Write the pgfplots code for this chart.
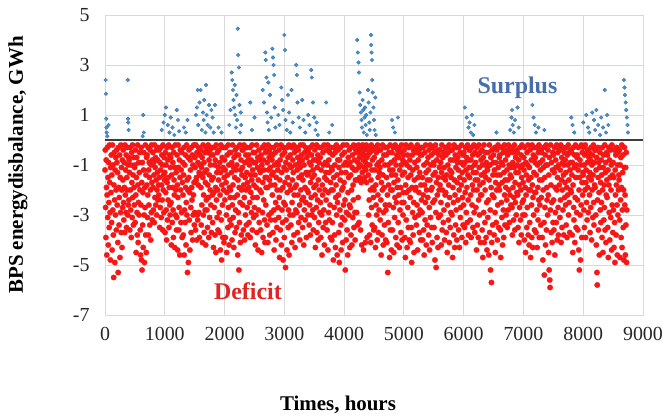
\documentclass[border=0pt]{standalone}
\usepackage{pgfplots}
\pgfplotsset{compat=1.18}
\usepackage{fontspec}
\setmainfont{Liberation Serif}

\definecolor{defred}{RGB}{255,20,20}
\definecolor{defedge}{RGB}{215,25,25}
\definecolor{surblue}{RGB}{74,144,204}
\definecolor{suredge}{RGB}{40,100,165}
\definecolor{surtext}{RGB}{72,110,170}
\definecolor{deftext}{RGB}{225,35,35}
\definecolor{zeroline}{RGB}{60,60,60}
\definecolor{gridgray}{RGB}{217,217,217}

\pgfplotsset{deficit/.style={only marks, mark=*, mark size=2.75pt,
  mark options={fill=defred, draw=defedge, line width=0.25pt}}}

\begin{document}
\begin{tikzpicture}
\begin{axis}[
  width=538bp, height=300bp, scale only axis,
  xmin=0, xmax=9000, ymin=-7, ymax=5,
  xtick={0,1000,...,9000},
  xticklabels={0,1000,2000,3000,4000,5000,6000,7000,8000,9000},
  ytick={-7,-5,-3,-1,1,3,5},
  yticklabels={-7,-5,-3,-1,1,3,5},
  major tick length=0pt,
  grid=major,
  grid style={draw=gridgray, line width=0.9pt},
  axis line style={draw=gridgray, line width=0.9pt},
  ticklabel style={font=\fontsize{20}{24}\selectfont, text=black!85},
  xticklabel style={yshift=-9bp},
  yticklabel style={xshift=-12bp},
  clip=false,
]
% hourly deficit of the power system (negative balance)
\addplot[deficit] table {
0 -1.2
5 -0.4
10 -2.7
15 -3.9
20 -0.8
25 -1.9
30 -4.6
35 -2.2
40 -0.3
45 -3.1
50 -1.5
55 -4.2
60 -0.9
65 -2.5
70 -3.5
75 -0.2
80 -1.7
85 -2.9
90 -4.8
95 -1.1
100 -2.1
105 -0.6
110 -3.3
115 -1.4
120 -4.4
125 -0.2
130 -2.8
135 -1.0
140 -3.8
145 -5.5
150 -1.8
155 -0.5
160 -2.4
165 -4.9
170 -1.2
175 -3.0
180 -0.7
185 -2.0
190 -3.6
195 -0.4
200 -0.9
205 -2.6
210 -1.3
215 -4.1
220 -5.3
225 -0.3
230 -1.9
235 -3.4
240 -2.3
245 -0.6
250 -4.7
255 -1.5
260 -2.9
265 -0.2
270 -3.7
275 -1.1
280 -2.0
285 -4.3
290 -0.8
295 -2.7
300 -1.6
305 -0.4
310 -2.5
315 -3.2
320 -0.9
325 -1.9
330 -3.7
335 -0.2
340 -2.2
345 -1.2
350 -2.9
355 -0.6
360 -3.5
365 -1.5
370 -2.0
375 -0.3
380 -3.0
385 -1.0
390 -2.6
395 -0.7
400 -2.4
405 -0.8
410 -1.3
415 -3.6
420 -0.3
425 -2.0
430 -2.8
435 -1.0
440 -3.9
445 -0.5
450 -1.7
455 -3.1
460 -0.2
465 -2.3
470 -1.4
475 -3.4
480 -0.7
485 -1.9
490 -2.6
495 -1.1
500 -1.0
505 -3.3
510 -0.4
515 -2.2
520 -4.5
525 -1.5
530 -0.7
535 -2.9
540 -3.8
545 -0.2
550 -1.8
555 -4.1
560 -2.5
565 -0.9
570 -3.0
575 -1.3
580 -0.5
585 -2.0
590 -3.6
595 -4.6
600 -2.6
605 -0.3
610 -4.8
615 -1.7
620 -5.2
625 -0.9
630 -3.4
635 -2.1
640 -4.3
645 -1.2
650 -0.5
655 -3.0
660 -4.9
665 -1.9
670 -2.7
675 -0.2
680 -3.8
685 -1.4
690 -4.5
695 -0.7
700 -1.8
705 -0.6
710 -3.1
715 -2.2
720 -0.3
725 -3.8
730 -1.2
735 -2.6
740 -0.9
745 -1.5
750 -3.4
755 -0.4
760 -2.0
765 -4.0
770 -1.0
775 -2.9
780 -0.2
785 -1.7
790 -3.2
795 -0.8
800 -0.5
805 -1.9
810 -2.8
815 -0.9
820 -1.4
825 -3.3
830 -0.2
835 -2.3
840 -1.1
845 -0.7
850 -2.6
855 -1.6
860 -0.4
865 -3.0
870 -2.0
875 -1.3
880 -0.8
885 -2.4
890 -0.3
895 -1.8
900 -2.2
905 -0.4
910 -1.5
915 -3.5
920 -0.9
925 -2.7
930 -1.2
935 -0.3
940 -3.1
945 -1.8
950 -0.6
955 -2.4
960 -1.0
965 -3.6
970 -0.2
975 -2.0
980 -1.4
985 -2.9
990 -0.7
995 -1.6
1000 -1.3
1005 -3.7
1010 -0.5
1015 -2.1
1020 -1.0
1025 -2.8
1030 -4.0
1035 -0.3
1040 -1.7
1045 -3.2
1050 -0.8
1055 -2.4
1060 -1.5
1065 -0.2
1070 -3.5
1075 -1.9
1080 -0.6
1085 -2.6
1090 -3.0
1095 -1.1
1100 -0.7
1105 -2.5
1110 -4.2
1115 -1.4
1120 -0.3
1125 -3.3
1130 -1.9
1135 -0.9
1140 -2.8
1145 -3.9
1150 -0.5
1155 -1.6
1160 -2.2
1165 -4.3
1170 -1.1
1175 -0.2
1180 -3.0
1185 -2.0
1190 -1.3
1195 -3.6
1200 -3.1
1205 -0.6
1210 -1.8
1215 -4.4
1220 -2.3
1225 -0.2
1230 -1.1
1235 -3.6
1240 -2.7
1245 -0.8
1250 -4.6
1255 -1.5
1260 -0.4
1265 -2.0
1270 -3.3
1275 -1.2
1280 -2.9
1285 -0.5
1290 -3.9
1295 -1.7
1300 -0.9
1305 -2.2
1310 -3.8
1315 -1.4
1320 -0.3
1325 -4.6
1330 -2.8
1335 -1.0
1340 -3.3
1345 -0.6
1350 -1.9
1355 -4.2
1360 -2.5
1365 -0.2
1370 -3.0
1375 -1.6
1380 -5.3
1385 -2.0
1390 -0.7
1395 -4.9
1400 -1.5
1405 -0.4
1410 -3.2
1415 -2.1
1420 -4.4
1425 -0.8
1430 -1.2
1435 -2.7
1440 -3.7
1445 -0.3
1450 -1.9
1455 -2.4
1460 -0.6
1465 -4.0
1470 -1.0
1475 -3.0
1480 -2.2
1485 -0.2
1490 -1.7
1495 -3.4
1500 -2.9
1505 -0.7
1510 -1.1
1515 -3.6
1520 -0.2
1525 -1.6
1530 -1.5
1535 -4.0
1540 -0.5
1545 -3.0
1550 -3.2
1555 -0.9
1560 -1.8
1565 -0.3
1570 -2.9
1575 -1.3
1580 -3.9
1585 -0.6
1590 -1.4
1595 -1.0
1600 -0.4
1605 -1.9
1610 -3.4
1615 -1.1
1620 -2.6
1625 -0.7
1630 -4.1
1635 -1.5
1640 -0.2
1645 -3.0
1650 -2.2
1655 -0.9
1660 -3.7
1665 -1.3
1670 -0.5
1675 -2.8
1680 -1.7
1685 -4.2
1690 -0.3
1695 -2.4
1700 -1.2
1705 -2.8
1710 -0.5
1715 -3.5
1720 -1.8
1725 -0.2
1730 -2.3
1735 -3.9
1740 -0.8
1745 -1.4
1750 -3.1
1755 -0.4
1760 -2.0
1765 -1.0
1770 -2.6
1775 -0.6
1780 -3.7
1785 -1.6
1790 -0.3
1795 -2.2
1800 -3.3
1805 -0.6
1810 -1.5
1815 -4.3
1820 -2.1
1825 -0.3
1830 -2.7
1835 -1.0
1840 -3.8
1845 -0.8
1850 -1.9
1855 -4.5
1860 -0.2
1865 -2.4
1870 -1.3
1875 -3.1
1880 -0.5
1885 -2.0
1890 -3.6
1895 -1.1
1900 -1.6
1905 -0.4
1910 -2.9
1915 -3.7
1920 -0.9
1925 -2.2
1930 -4.4
1935 -1.3
1940 -0.2
1945 -3.2
1950 -4.8
1955 -1.8
1960 -0.7
1965 -2.6
1970 -3.9
1975 -1.1
1980 -0.3
1985 -2.0
1990 -4.1
1995 -1.5
2000 -0.8
2005 -2.4
2010 -1.2
2015 -3.9
2020 -0.3
2025 -1.7
2030 -3.0
2035 -4.5
2040 -2.1
2045 -0.6
2050 -1.4
2055 -3.5
2060 -0.2
2065 -2.7
2070 -1.0
2075 -4.2
2080 -1.9
2085 -0.5
2090 -3.2
2095 -2.3
2100 -2.0
2105 -0.5
2110 -3.4
2115 -1.3
2120 -0.9
2125 -4.0
2130 -2.6
2135 -0.2
2140 -1.8
2145 -3.1
2150 -1.1
2155 -4.3
2160 -0.7
2165 -2.3
2170 -1.5
2175 -3.7
2180 -0.4
2185 -2.8
2190 -1.2
2195 -0.6
2200 -3.5
2205 -1.0
2210 -0.3
2215 -2.2
2220 -4.6
2225 -1.6
2230 -2.9
2235 -0.6
2240 -5.2
2245 -1.9
2250 -3.3
2255 -0.2
2260 -2.5
2265 -4.1
2270 -1.2
2275 -0.8
2280 -3.8
2285 -2.0
2290 -1.4
2295 -0.4
2300 -1.1
2305 -2.6
2310 -0.4
2315 -3.6
2320 -1.8
2325 -0.2
2330 -2.3
2335 -4.0
2340 -0.9
2345 -1.5
2350 -3.0
2355 -0.6
2360 -2.0
2365 -3.4
2370 -1.3
2375 -0.3
2380 -2.7
2385 -1.7
2390 -3.8
2395 -0.8
2400 -0.6
2405 -1.9
2410 -3.3
2415 -1.0
2420 -2.5
2425 -0.3
2430 -3.9
2435 -1.4
2440 -2.1
2445 -0.8
2450 -2.9
2455 -1.6
2460 -0.2
2465 -3.6
2470 -1.2
2475 -2.3
2480 -0.5
2485 -3.1
2490 -1.8
2495 -0.9
2500 -2.7
2505 -0.5
2510 -1.4
2515 -4.2
2520 -0.9
2525 -3.0
2530 -1.9
2535 -0.2
2540 -3.7
2545 -2.3
2550 -1.1
2555 -0.7
2560 -4.4
2565 -1.6
2570 -2.8
2575 -0.4
2580 -3.3
2585 -1.2
2590 -2.0
2595 -0.8
2600 -1.3
2605 -3.6
2610 -0.6
2615 -2.1
2620 -4.5
2625 -1.0
2630 -0.3
2635 -2.9
2640 -1.7
2645 -3.9
2650 -0.8
2655 -2.4
2660 -1.2
2665 -0.2
2670 -3.2
2675 -4.1
2680 -1.5
2685 -0.5
2690 -2.6
2695 -1.9
2700 -0.4
2705 -1.5
2710 -3.4
2715 -0.9
2720 -1.9
2725 -4.1
2730 -0.2
2735 -1.2
2740 -3.0
2745 -0.7
2750 -1.6
2755 -3.8
2760 -0.5
2765 -1.1
2770 -3.2
2775 -1.8
2780 -0.3
2785 -2.9
2790 -1.4
2795 -0.8
2800 -2.2
2805 -0.6
2810 -3.7
2815 -1.3
2820 -0.3
2825 -2.8
2830 -4.4
2835 -1.0
2840 -1.8
2845 -3.2
2850 -0.5
2855 -2.5
2860 -4.0
2865 -1.5
2870 -0.2
2875 -3.5
2880 -2.0
2885 -0.9
2890 -1.2
2895 -2.7
2900 -1.0
2905 -3.1
2910 -0.4
2915 -2.3
2920 -4.7
2925 -1.6
2930 -0.8
2935 -3.6
2940 -2.0
2945 -0.2
2950 -4.2
2955 -1.3
2960 -2.8
2965 -0.6
2970 -3.3
2975 -1.9
2980 -4.8
2985 -0.3
2990 -2.5
2995 -1.1
};
\addplot[deficit] table {
3000 -3.9
3005 -0.5
3010 -1.7
3015 -2.6
3020 -5.1
3025 -0.9
3030 -3.2
3035 -1.2
3040 -0.3
3045 -4.4
3050 -2.1
3055 -1.5
3060 -0.7
3065 -3.5
3070 -2.8
3075 -0.2
3080 -4.6
3085 -1.8
3090 -1.0
3095 -3.0
3100 -0.6
3105 -2.0
3110 -3.4
3115 -1.1
3120 -0.3
3125 -4.1
3130 -2.5
3135 -1.6
3140 -0.8
3145 -3.0
3150 -1.3
3155 -0.2
3160 -3.8
3165 -2.2
3170 -0.5
3175 -1.9
3180 -4.3
3185 -1.0
3190 -2.8
3195 -0.4
3200 -1.8
3205 -0.3
3210 -2.9
3215 -1.2
3220 -3.7
3225 -0.7
3230 -2.2
3235 -0.4
3240 -3.3
3245 -1.5
3250 -0.9
3255 -2.6
3260 -4.0
3265 -1.1
3270 -0.2
3275 -2.0
3280 -3.1
3285 -0.6
3290 -1.4
3295 -2.4
3300 -0.8
3305 -3.5
3310 -1.6
3315 -0.2
3320 -2.3
3325 -4.2
3330 -1.0
3335 -2.8
3340 -0.5
3345 -1.9
3350 -3.2
3355 -0.3
3360 -2.5
3365 -1.3
3370 -3.9
3375 -0.7
3380 -2.0
3385 -1.4
3390 -0.4
3395 -3.0
3400 -2.1
3405 -0.5
3410 -1.3
3415 -3.4
3420 -0.9
3425 -2.6
3430 -0.3
3435 -3.8
3440 -1.7
3445 -1.0
3450 -2.3
3455 -0.6
3460 -3.0
3465 -1.5
3470 -0.2
3475 -2.8
3480 -1.2
3485 -3.6
3490 -0.8
3495 -1.9
3500 -1.4
3505 -3.1
3510 -0.4
3515 -2.2
3520 -4.3
3525 -0.8
3530 -1.8
3535 -2.7
3540 -0.2
3545 -3.7
3550 -1.1
3555 -2.4
3560 -0.6
3565 -4.0
3570 -1.6
3575 -3.3
3580 -0.9
3585 -2.0
3590 -0.3
3595 -2.9
3600 -0.7
3605 -2.5
3610 -3.9
3615 -1.2
3620 -0.3
3625 -3.0
3630 -4.6
3635 -1.8
3640 -2.2
3645 -0.5
3650 -3.5
3655 -1.0
3660 -2.8
3665 -0.2
3670 -4.2
3675 -1.5
3680 -2.0
3685 -0.9
3690 -3.3
3695 -1.3
3700 -2.4
3705 -0.4
3710 -1.6
3715 -3.6
3720 -1.0
3725 -0.2
3730 -4.4
3735 -2.1
3740 -2.9
3745 -0.8
3750 -1.3
3755 -3.2
3760 -0.5
3765 -2.6
3770 -3.9
3775 -1.7
3780 -0.3
3785 -2.0
3790 -1.1
3795 -4.0
3800 -1.2
3805 -3.3
3810 -0.6
3815 -2.0
3820 -4.8
3825 -1.5
3830 -0.3
3835 -2.7
3840 -3.8
3845 -1.0
3850 -0.5
3855 -4.3
3860 -2.3
3865 -1.8
3870 -0.2
3875 -3.0
3880 -1.4
3885 -4.6
3890 -2.5
3895 -0.8
3900 -0.4
3905 -2.2
3910 -3.7
3915 -1.1
3920 -4.9
3925 -0.8
3930 -2.8
3935 -1.6
3940 -0.3
3945 -3.4
3950 -4.4
3955 -1.3
3960 -2.0
3965 -0.6
3970 -3.1
3975 -4.1
3980 -1.9
3985 -0.2
3990 -2.6
3995 -1.0
4000 -1.7
4005 -0.5
4010 -3.2
4015 -2.4
4020 -5.2
4025 -0.9
4030 -1.3
4035 -4.0
4040 -2.9
4045 -0.2
4050 -3.6
4055 -1.0
4060 -4.6
4065 -2.1
4070 -0.7
4075 -1.5
4080 -3.0
4085 -0.4
4090 -2.6
4095 -4.3
4100 -0.9
4105 -2.7
4110 -1.4
4115 -3.8
4120 -0.3
4125 -2.0
4130 -4.2
4135 -1.1
4140 -0.6
4145 -3.1
4150 -1.8
4155 -2.4
4160 -0.2
4165 -3.5
4170 -1.2
4175 -0.8
4180 -2.9
4185 -4.0
4190 -1.6
4195 -0.4
4200 -1.2
4205 -0.5
4210 -2.9
4215 -1.6
4220 -0.3
4225 -3.4
4230 -0.9
4235 -2.3
4240 -0.2
4245 -1.1
4250 -3.3
4255 -0.7
4260 -1.5
4265 -0.4
4270 -1.0
4275 -3.6
4280 -0.6
4285 -1.7
4290 -0.3
4295 -4.2
4300 -0.5
4305 -1.3
4310 -0.2
4315 -1.6
4320 -0.8
4325 -4.4
4330 -0.4
4335 -1.1
4340 -0.6
4345 -1.5
4350 -0.3
4355 -4.1
4360 -0.9
4365 -1.2
4370 -0.2
4375 -1.7
4380 -0.7
4385 -3.9
4390 -1.0
4395 -0.4
4400 -0.6
4405 -1.4
4410 -3.0
4415 -0.3
4420 -2.4
4425 -3.8
4430 -1.0
4435 -0.5
4440 -2.0
4445 -4.1
4450 -1.6
4455 -0.2
4460 -2.7
4465 -1.2
4470 -3.4
4475 -0.8
4480 -1.9
4485 -0.4
4490 -2.3
4495 -3.6
4500 -2.0
4505 -0.7
4510 -3.5
4515 -1.2
4520 -0.3
4525 -4.3
4530 -1.8
4535 -2.6
4540 -0.5
4545 -3.0
4550 -1.0
4555 -4.0
4560 -0.2
4565 -2.2
4570 -1.5
4575 -3.7
4580 -0.9
4585 -2.8
4590 -1.3
4595 -0.4
4600 -1.1
4605 -3.2
4610 -0.4
4615 -2.4
4620 -4.6
4625 -1.7
4630 -0.8
4635 -3.8
4640 -2.0
4645 -0.2
4650 -1.4
4655 -4.2
4660 -2.9
4665 -0.6
4670 -1.9
4675 -3.4
4680 -1.0
4685 -0.3
4690 -2.6
4695 -4.0
4700 -2.8
4705 -0.6
4710 -1.5
4715 -4.1
4720 -0.3
4725 -2.2
4730 -5.3
4735 -1.0
4740 -3.3
4745 -1.8
4750 -0.5
4755 -2.6
4760 -4.7
4765 -1.2
4770 -0.2
4775 -3.6
4780 -2.0
4785 -0.9
4790 -4.4
4795 -1.4
4800 -0.5
4805 -2.0
4810 -3.6
4815 -1.2
4820 -0.3
4825 -2.7
4830 -4.5
4835 -1.7
4840 -0.8
4845 -3.1
4850 -2.3
4855 -0.2
4860 -1.4
4865 -3.9
4870 -1.0
4875 -2.5
4880 -0.6
4885 -4.2
4890 -1.9
4895 -0.4
4900 -1.6
4905 -3.3
4910 -0.7
4915 -2.2
4920 -0.3
4925 -4.3
4930 -1.2
4935 -2.8
4940 -0.5
4945 -1.9
4950 -3.7
4955 -1.0
4960 -0.2
4965 -2.5
4970 -4.0
4975 -1.4
4980 -0.8
4985 -3.0
4990 -2.1
4995 -0.6
5000 -2.5
5005 -0.4
5010 -1.3
5015 -3.9
5020 -0.9
5025 -4.7
5030 -1.8
5035 -0.2
5040 -3.2
5045 -2.1
5050 -1.0
5055 -4.3
5060 -0.6
5065 -2.7
5070 -1.5
5075 -3.5
5080 -0.3
5085 -2.0
5090 -4.0
5095 -1.1
5100 -0.8
5105 -2.3
5110 -4.1
5115 -1.4
5120 -0.2
5125 -3.5
5130 -4.9
5135 -1.9
5140 -0.6
5145 -2.9
5150 -1.2
5155 -3.8
5160 -0.4
5165 -2.5
5170 -4.5
5175 -1.6
5180 -0.9
5185 -3.1
5190 -2.0
5195 -0.3
5200 -1.9
5205 -0.5
5210 -3.4
5215 -1.1
5220 -2.6
5225 -0.2
5230 -4.4
5235 -1.5
5240 -0.8
5245 -3.0
5250 -2.1
5255 -0.4
5260 -3.7
5265 -1.3
5270 -2.8
5275 -0.6
5280 -4.0
5285 -1.8
5290 -0.3
5295 -2.4
5300 -0.6
5305 -2.9
5310 -1.5
5315 -4.0
5320 -0.3
5325 -2.2
5330 -3.6
5335 -1.0
5340 -4.6
5345 -1.8
5350 -0.5
5355 -3.2
5360 -2.5
5365 -0.2
5370 -1.3
5375 -4.2
5380 -2.0
5385 -0.9
5390 -3.4
5395 -1.6
5400 -2.3
5405 -0.7
5410 -1.2
5415 -3.8
5420 -0.4
5425 -2.7
5430 -4.4
5435 -1.6
5440 -0.2
5445 -3.1
5450 -1.0
5455 -2.0
5460 -0.6
5465 -3.5
5470 -1.9
5475 -4.1
5480 -0.3
5485 -2.5
5490 -1.4
5495 -0.9
5500 -1.0
5505 -3.5
5510 -0.5
5515 -2.4
5520 -4.8
5525 -1.3
5530 -0.2
5535 -2.9
5540 -5.1
5545 -1.7
5550 -0.8
5555 -3.9
5560 -2.2
5565 -0.4
5570 -4.3
5575 -1.5
5580 -3.1
5585 -0.6
5590 -2.0
5595 -1.1
5600 -0.4
5605 -1.8
5610 -3.0
5615 -0.9
5620 -2.5
5625 -4.2
5630 -1.3
5635 -0.2
5640 -3.6
5645 -2.0
5650 -0.7
5655 -1.5
5660 -3.3
5665 -0.5
5670 -2.8
5675 -1.1
5680 -4.0
5685 -0.3
5690 -2.2
5695 -1.6
5700 -2.1
5705 -0.6
5710 -3.7
5715 -1.4
5720 -0.3
5725 -4.5
5730 -2.6
5735 -1.0
5740 -0.5
5745 -3.2
5750 -1.8
5755 -0.2
5760 -4.1
5765 -2.3
5770 -1.2
5775 -3.5
5780 -0.8
5785 -2.9
5790 -1.5
5795 -0.4
5800 -1.3
5805 -3.0
5810 -0.4
5815 -4.7
5820 -1.9
5825 -0.8
5830 -2.5
5835 -3.8
5840 -0.2
5845 -1.6
5850 -4.3
5855 -2.2
5860 -0.6
5865 -3.4
5870 -1.1
5875 -2.8
5880 -0.3
5885 -4.0
5890 -1.7
5895 -0.9
5900 -0.7
5905 -2.4
5910 -1.2
5915 -3.6
5920 -0.3
5925 -2.0
5930 -4.3
5935 -1.5
5940 -0.5
5945 -3.1
5950 -2.7
5955 -0.9
5960 -1.8
5965 -0.2
5970 -3.9
5975 -1.3
5980 -2.3
5985 -0.6
5990 -3.4
5995 -1.0
};
\addplot[deficit] table {
6000 -2.6
6005 -0.5
6010 -1.6
6015 -3.5
6020 -0.9
6025 -2.1
6030 -0.3
6035 -4.1
6040 -1.2
6045 -2.9
6050 -0.7
6055 -1.9
6060 -3.3
6065 -0.2
6070 -1.4
6075 -2.4
6080 -3.8
6085 -0.8
6090 -1.1
6095 -0.4
6100 -1.5
6105 -0.4
6110 -3.2
6115 -2.2
6120 -0.8
6125 -3.9
6130 -1.1
6135 -0.3
6140 -2.6
6145 -1.8
6150 -0.6
6155 -3.5
6160 -1.3
6165 -2.0
6170 -0.2
6175 -2.9
6180 -1.0
6185 -3.7
6190 -0.5
6195 -1.6
6200 -0.9
6205 -2.7
6210 -1.3
6215 -4.4
6220 -0.3
6225 -2.0
6230 -3.4
6235 -1.6
6240 -0.6
6245 -3.9
6250 -2.4
6255 -0.2
6260 -1.1
6265 -3.0
6270 -1.8
6275 -0.5
6280 -4.1
6285 -2.2
6290 -0.8
6295 -1.4
6300 -2.2
6305 -0.4
6310 -3.6
6315 -1.0
6320 -4.7
6325 -1.7
6330 -0.7
6335 -2.9
6340 -0.2
6345 -4.1
6350 -1.3
6355 -3.3
6360 -2.0
6365 -0.5
6370 -1.5
6375 -3.9
6380 -0.9
6385 -2.5
6390 -4.4
6395 -1.1
6400 -1.2
6405 -3.1
6410 -0.5
6415 -2.4
6420 -4.6
6425 -1.6
6430 -0.2
6435 -3.7
6440 -1.0
6445 -2.8
6450 -5.2
6455 -0.7
6460 -1.9
6465 -5.7
6470 -4.1
6475 -0.4
6480 -2.2
6485 -3.4
6490 -1.4
6495 -0.9
6500 -0.6
6505 -2.3
6510 -3.8
6515 -1.2
6520 -0.3
6525 -2.9
6530 -4.5
6535 -1.7
6540 -0.9
6545 -3.3
6550 -2.0
6555 -0.4
6560 -1.4
6565 -4.0
6570 -2.6
6575 -0.2
6580 -1.1
6585 -3.5
6590 -1.8
6595 -0.7
6600 -2.0
6605 -0.6
6610 -1.4
6615 -3.6
6620 -4.7
6625 -0.9
6630 -2.5
6635 -0.3
6640 -3.1
6645 -1.7
6650 -4.2
6655 -1.0
6660 -0.5
6665 -2.8
6670 -3.9
6675 -1.3
6680 -0.2
6685 -2.2
6690 -3.4
6695 -1.6
6700 -0.8
6705 -1.9
6710 -3.0
6715 -0.4
6720 -2.4
6725 -1.2
6730 -3.5
6735 -0.6
6740 -1.6
6745 -2.8
6750 -0.2
6755 -2.0
6760 -1.0
6765 -3.3
6770 -0.5
6775 -2.2
6780 -1.4
6785 -0.3
6790 -2.6
6795 -1.1
6800 -1.5
6805 -0.3
6810 -2.7
6815 -3.8
6820 -0.9
6825 -1.9
6830 -0.5
6835 -3.2
6840 -2.3
6845 -1.1
6850 -0.2
6855 -3.6
6860 -1.7
6865 -2.5
6870 -0.7
6875 -1.3
6880 -3.0
6885 -0.4
6890 -2.1
6895 -1.0
6900 -0.5
6905 -2.2
6910 -3.5
6915 -1.3
6920 -0.8
6925 -4.1
6930 -1.8
6935 -2.7
6940 -0.3
6945 -1.1
6950 -3.2
6955 -2.0
6960 -0.6
6965 -3.8
6970 -1.5
6975 -0.2
6980 -2.5
6985 -1.0
6990 -3.0
6995 -1.7
7000 -2.4
7005 -0.7
7010 -1.2
7015 -4.0
7020 -0.3
7025 -3.0
7030 -1.9
7035 -4.5
7040 -0.9
7045 -2.2
7050 -1.4
7055 -3.5
7060 -0.5
7065 -2.7
7070 -1.0
7075 -0.2
7080 -3.8
7085 -1.6
7090 -2.0
7095 -4.2
7100 -1.1
7105 -3.3
7110 -0.4
7115 -2.0
7120 -4.7
7125 -1.5
7130 -0.8
7135 -2.6
7140 -3.9
7145 -0.2
7150 -1.8
7155 -4.3
7160 -2.3
7165 -0.6
7170 -3.0
7175 -1.3
7180 -0.3
7185 -3.6
7190 -2.1
7195 -0.9
7200 -0.7
7205 -2.1
7210 -3.7
7215 -1.4
7220 -0.3
7225 -2.8
7230 -4.3
7235 -1.0
7240 -1.9
7245 -3.2
7250 -0.5
7255 -2.4
7260 -0.2
7265 -3.9
7270 -1.6
7275 -2.6
7280 -0.9
7285 -1.2
7290 -3.4
7295 -0.4
7300 -2.3
7305 -0.5
7310 -1.6
7315 -3.9
7320 -0.8
7325 -4.8
7330 -2.0
7335 -1.1
7340 -0.3
7345 -3.3
7350 -5.4
7355 -1.5
7360 -2.7
7365 -0.6
7370 -4.2
7375 -1.0
7380 -0.2
7385 -3.6
7390 -1.9
7395 -2.4
7400 -1.0
7405 -3.0
7410 -0.4
7415 -2.2
7420 -4.5
7425 -1.4
7430 -5.2
7435 -0.7
7440 -5.6
7445 -5.9
7450 -2.8
7455 -0.2
7460 -1.8
7465 -3.7
7470 -0.9
7475 -2.5
7480 -4.1
7485 -1.2
7490 -0.5
7495 -3.3
7500 -0.6
7505 -2.4
7510 -3.6
7515 -1.3
7520 -0.3
7525 -4.6
7530 -1.9
7535 -2.9
7540 -0.8
7545 -1.1
7550 -3.3
7555 -0.2
7560 -2.0
7565 -4.0
7570 -1.5
7575 -0.5
7580 -2.7
7585 -3.8
7590 -1.0
7595 -0.4
7600 -1.8
7605 -0.4
7610 -3.1
7615 -1.2
7620 -2.4
7625 -0.2
7630 -4.1
7635 -1.6
7640 -0.7
7645 -3.5
7650 -2.0
7655 -0.9
7660 -2.8
7665 -0.3
7670 -1.4
7675 -3.8
7680 -1.0
7685 -0.5
7690 -2.3
7695 -1.7
7700 -0.8
7705 -2.6
7710 -1.3
7715 -3.4
7720 -0.3
7725 -1.9
7730 -3.9
7735 -0.6
7740 -2.2
7745 -1.0
7750 -0.2
7755 -3.0
7760 -1.6
7765 -2.5
7770 -0.5
7775 -3.7
7780 -1.2
7785 -0.9
7790 -2.0
7795 -0.4
7800 -2.1
7805 -0.5
7810 -1.4
7815 -3.8
7820 -0.9
7825 -4.5
7830 -1.8
7835 -0.3
7840 -2.7
7845 -3.2
7850 -1.1
7855 -0.6
7860 -4.1
7865 -2.3
7870 -0.2
7875 -1.5
7880 -3.5
7885 -1.0
7890 -2.9
7895 -0.7
7900 -0.6
7905 -2.4
7910 -3.6
7915 -1.2
7920 -0.3
7925 -4.4
7930 -2.0
7935 -5.2
7940 -1.5
7945 -0.8
7950 -3.0
7955 -4.8
7960 -1.0
7965 -2.6
7970 -0.2
7975 -3.9
7980 -1.7
7985 -0.5
7990 -2.2
7995 -1.3
8000 -1.4
8005 -0.3
8010 -2.8
8015 -1.0
8020 -3.5
8025 -0.6
8030 -2.0
8035 -0.2
8040 -3.9
8045 -1.7
8050 -1.2
8055 -2.5
8060 -0.5
8065 -3.2
8070 -0.9
8075 -1.9
8080 -0.4
8085 -2.9
8090 -1.5
8095 -0.7
8100 -0.5
8105 -2.2
8110 -1.3
8115 -3.7
8120 -0.8
8125 -2.7
8130 -0.3
8135 -1.6
8140 -4.0
8145 -1.0
8150 -2.0
8155 -0.6
8160 -3.1
8165 -1.4
8170 -0.2
8175 -2.5
8180 -3.4
8185 -0.9
8190 -1.8
8195 -0.4
8200 -1.9
8205 -0.4
8210 -3.0
8215 -1.2
8220 -4.2
8225 -0.7
8230 -5.3
8235 -5.8
8240 -2.4
8245 -0.3
8250 -1.5
8255 -3.6
8260 -0.9
8265 -2.1
8270 -4.6
8275 -1.1
8280 -0.5
8285 -2.8
8290 -1.7
8295 -3.3
8300 -0.8
8305 -2.5
8310 -1.4
8315 -3.9
8320 -0.3
8325 -2.0
8330 -4.5
8335 -1.1
8340 -0.6
8345 -3.2
8350 -1.8
8355 -2.7
8360 -0.2
8365 -3.6
8370 -1.3
8375 -0.9
8380 -4.1
8385 -2.2
8390 -0.5
8395 -1.6
8400 -2.3
8405 -0.6
8410 -3.5
8415 -1.2
8420 -4.7
8425 -0.3
8430 -1.8
8435 -2.9
8440 -0.8
8445 -4.0
8450 -1.5
8455 -0.4
8460 -3.1
8465 -2.0
8470 -1.0
8475 -4.4
8480 -0.2
8485 -2.6
8490 -1.4
8495 -3.7
8500 -0.9
8505 -2.8
8510 -1.5
8515 -4.3
8520 -0.4
8525 -3.3
8530 -4.9
8535 -1.2
8540 -2.2
8545 -0.6
8550 -3.8
8555 -1.8
8560 -0.3
8565 -2.6
8570 -4.6
8575 -1.0
8580 -3.0
8585 -0.5
8590 -2.0
8595 -1.4
8600 -1.6
8605 -0.4
8610 -3.2
8615 -4.7
8620 -1.0
8625 -2.4
8630 -0.7
8635 -3.9
8640 -1.9
8645 -0.2
8650 -4.3
8655 -2.8
8660 -1.3
8665 -0.6
8670 -3.5
8675 -2.0
8680 -4.8
8685 -1.1
8690 -0.3
8695 -2.6
8700 -2.2
8705 -4.6
8710 -1.1
8715 -3.4
8720 -0.5
8725 -4.9
8730 -2.8
};
% balance line at zero
\addplot[draw=zeroline, line width=2.6pt, forget plot] coordinates {(0,0) (9000,0)};
% hourly surplus (positive balance)
\addplot[only marks, mark=*, mark size=1.9pt,
  mark options={fill=surblue, draw=suredge, line width=0.25pt}] table {
10 2.4
15 1.85
20 0.85
25 0.5
30 0.3
40 0.15
60 0.6
380 2.4
385 0.85
390 0.7
395 0.4
630 0.15
640 1.0
650 0.3
950 0.4
980 0.7
1000 1.0
1020 1.3
1050 0.6
1080 0.3
1100 0.9
1130 0.5
1160 0.2
1200 1.2
1220 0.8
1240 0.35
1320 0.5
1350 0.3
1380 0.8
1520 1.0
1540 1.3
1550 2.0
1560 0.6
1580 1.5
1600 2.0
1620 0.4
1640 1.1
1650 0.8
1660 1.6
1680 0.3
1690 2.2
1700 1.0
1720 0.6
1740 1.4
1760 0.5
1780 1.2
1800 0.9
1820 0.3
1840 1.4
1900 0.5
1950 0.3
2080 0.6
2100 1.2
2120 2.7
2130 2.4
2140 2.0
2150 1.6
2160 1.3
2170 2.2
2180 1.0
2190 0.5
2200 1.8
2210 0.8
2220 4.45
2230 3.4
2240 2.9
2250 1.4
2260 0.3
2270 1.1
2280 0.6
2430 1.5
2460 0.4
2500 0.9
2640 2.0
2660 1.5
2680 3.5
2690 3.2
2700 2.5
2710 1.1
2720 0.7
2730 2.3
2740 0.4
2760 1.8
2780 0.9
2800 3.65
2810 3.3
2820 3.0
2830 2.6
2840 1.3
2850 0.5
2900 1.0
2920 0.6
2950 2.1
2960 1.6
2980 1.2
3000 4.2
3010 3.6
3020 0.8
3040 0.4
3060 1.8
3080 1.1
3100 0.3
3120 2.0
3140 0.7
3200 3.0
3210 2.6
3220 1.5
3240 0.9
3260 0.5
3300 1.6
3320 0.8
3350 0.3
3400 1.0
3420 0.6
3450 2.8
3460 2.5
3480 1.5
3500 0.9
3520 0.4
3540 0.7
3560 0.2
3700 1.5
3750 0.3
3800 0.6
4220 4.0
4230 3.5
4240 3.1
4250 2.7
4260 1.9
4270 1.4
4280 1.1
4290 0.8
4300 0.5
4310 1.6
4320 1.2
4330 0.3
4340 0.9
4350 1.3
4360 0.6
4370 1.0
4380 0.2
4400 2.0
4410 1.5
4420 0.7
4430 0.4
4440 1.1
4450 4.2
4455 3.8
4460 3.5
4465 3.2
4470 2.4
4480 1.9
4490 1.3
4500 0.8
4510 0.4
4520 1.7
4530 0.2
4800 0.8
4820 0.5
4850 0.3
4900 0.9
6020 1.3
6050 0.9
6080 0.5
6100 0.7
6120 0.3
6140 1.0
6160 0.2
6180 0.6
6550 0.3
6780 0.4
6800 0.9
6810 1.2
6820 0.6
6840 0.3
6860 0.8
6900 1.3
6920 0.5
7150 1.4
7170 0.9
7190 0.6
7210 0.3
7250 0.5
7350 0.4
7800 0.9
7820 0.6
7850 0.3
8000 0.7
8050 1.0
8080 0.5
8100 0.3
8150 1.1
8180 0.8
8200 0.4
8220 1.2
8250 0.6
8280 0.2
8300 0.9
8330 0.5
8360 2.0
8380 0.3
8400 1.0
8420 0.6
8680 2.4
8690 2.1
8700 1.8
8710 1.5
8720 1.2
8730 0.9
8740 0.6
8750 0.3
};
\node[font=\bfseries\fontsize{24}{28}\selectfont, text=surtext] at (axis cs:6900,2.08) {Surplus};
\node[font=\bfseries\fontsize{24}{28}\selectfont, text=deftext] at (axis cs:2390,-6.05) {Deficit};
\end{axis}
\node[font=\bfseries\fontsize{21}{25}\selectfont, rotate=90] at (-87bp,150bp) {BPS energydisbalance, GWh};
\node[font=\bfseries\fontsize{21}{25}\selectfont] at (233bp,-90bp) {Times, hours};
\pgfresetboundingbox
\path[use as bounding box] (-105bp,-103bp) rectangle (562bp,315bp);
\end{tikzpicture}
\end{document}
